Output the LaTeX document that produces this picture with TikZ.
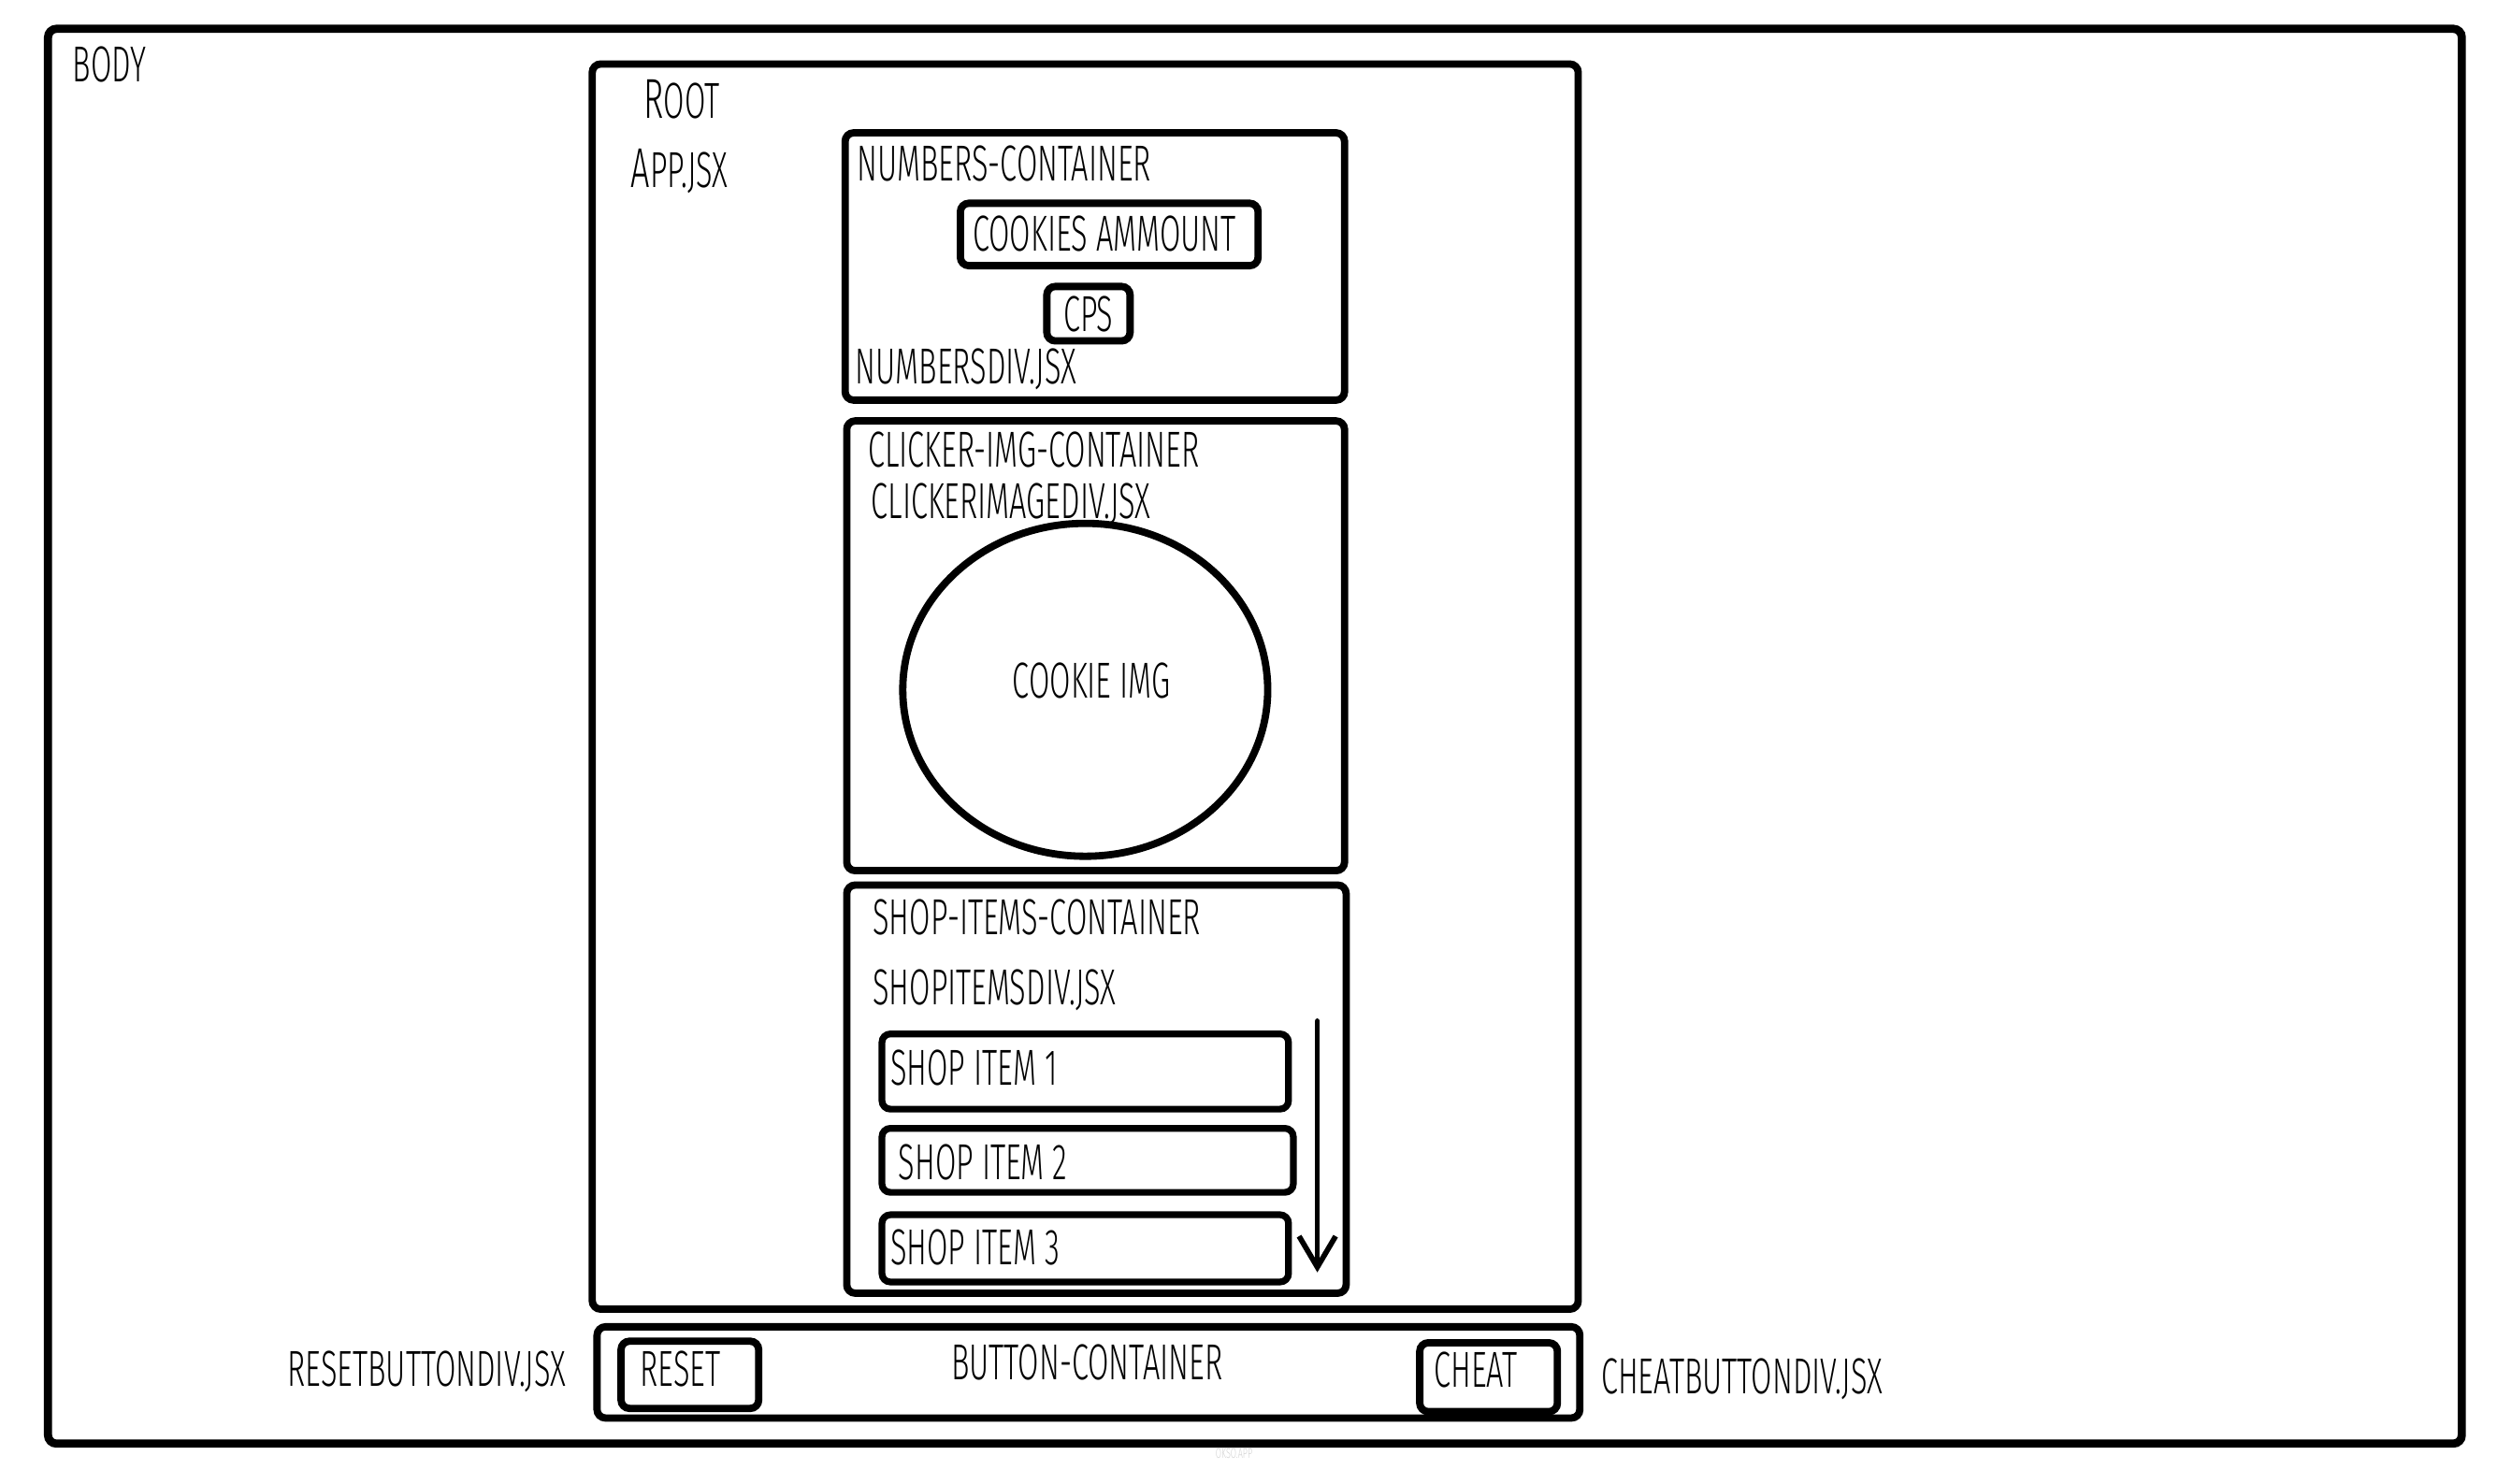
\documentclass[tikz,border=0pt]{standalone}
\usepackage{fontspec}
\setmainfont{Fira Sans}[FakeStretch=0.6, UprightFont={* Light}]
\usetikzlibrary{arrows.meta}

\begin{document}
\begin{tikzpicture}[x=0.02cm, y=-0.02cm,
  box/.style={draw=black, line width=2.6pt, rounded corners=3pt},
  lbl/.style={inner sep=0pt, text depth=0pt, font=\fontsize{18}{20}\selectfont}]

% Colors
\definecolor{faint}{RGB}{210,210,210} % watermark

\useasboundingbox (0,0) rectangle (1560,927);

% === BODY ===
\draw[box, line width=2.9pt] (30,18) rectangle (1538,902);
\node[lbl, anchor=west] (body) at (45,40) {BODY};

% === ROOT ===
\draw[box] (370,40) rectangle (986,818);
\node[lbl, anchor=west] (root) at (402,62) {{\fontsize{20}{20}\selectfont R}OOT};
\node[lbl, anchor=west] (app) at (394,105) {{\fontsize{20}{20}\selectfont A}PP.JSX};

% === NUMBERS-CONTAINER ===
\draw[box] (528,83) rectangle (840,250);
\node[lbl, anchor=west] (numbers) at (535,102) {NUMBERS-CONTAINER};
\draw[box] (600,127) rectangle (786,166);
\node[lbl] (cookies) at (690,146) {COOKIES AMMOUNT};
\draw[box] (654,179) rectangle (706,213);
\node[lbl] (cps) at (680,196) {CPS};
\node[lbl, anchor=west] (numbersdiv) at (534,229) {NUMBERSDIV.JSX};

% === CLICKER-IMG-CONTAINER ===
\draw[box] (529,263) rectangle (840,544);
\node[lbl, anchor=west] (clicker) at (542,281) {CLICKER-IMG-CONTAINER};
\node[lbl, anchor=west] (clickerdiv) at (544,313) {CLICKERIMAGEDIV.JSX};
\draw[box] (678,431) ellipse [x radius=114, y radius=104];
\node[lbl] (cookie) at (682,425) {COOKIE IMG};

% === SHOP-ITEMS-CONTAINER ===
\draw[box] (529,553) rectangle (841,808);
\node[lbl, anchor=west] (shop) at (545,573) {SHOP-ITEMS-CONTAINER};
\node[lbl, anchor=west] (shopdiv) at (545,617) {SHOPITEMSDIV.JSX};

\draw[box, line width=2.4pt] (551,646) rectangle (805,693);
\node[lbl, anchor=west] (item1) at (556,667) {SHOP ITEM 1};
\draw[box, line width=2.4pt] (551,705) rectangle (808,745);
\node[lbl, anchor=west] (item2) at (561,726) {SHOP ITEM 2};
\draw[box, line width=2.4pt] (551,759) rectangle (805,801);
\node[lbl, anchor=west] (item3) at (556,779) {SHOP ITEM 3};

% scroll arrow
\coordinate (scrolltop) at (823,638);
\coordinate (scrollend) at (823,795);
\draw[-{Straight Barb[length=11pt,width=13pt]}, line width=1.9pt, line cap=round] (scrolltop) -- (scrollend);

% === BUTTON-CONTAINER ===
\draw[box] (373,829) rectangle (987,886);
\node[lbl] (buttons) at (679,851) {BUTTON-CONTAINER};
\draw[box] (388,838) rectangle (474,880);
\node[lbl] (reset) at (425,855) {RESET};
\draw[box] (887,839) rectangle (973,882);
\node[lbl] (cheat) at (922,856) {CHEAT};
\node[lbl, anchor=east] (resetdiv) at (354,855) {RESETBUTTONDIV.JSX};
\node[lbl, anchor=west] (cheatdiv) at (1000,860) {CHEATBUTTONDIV.JSX};

% watermark
\node[inner sep=0pt, text=faint, font=\fontsize{5}{6}\selectfont] (okso) at (771,908) {OKSO.APP};

\end{tikzpicture}
\end{document}
